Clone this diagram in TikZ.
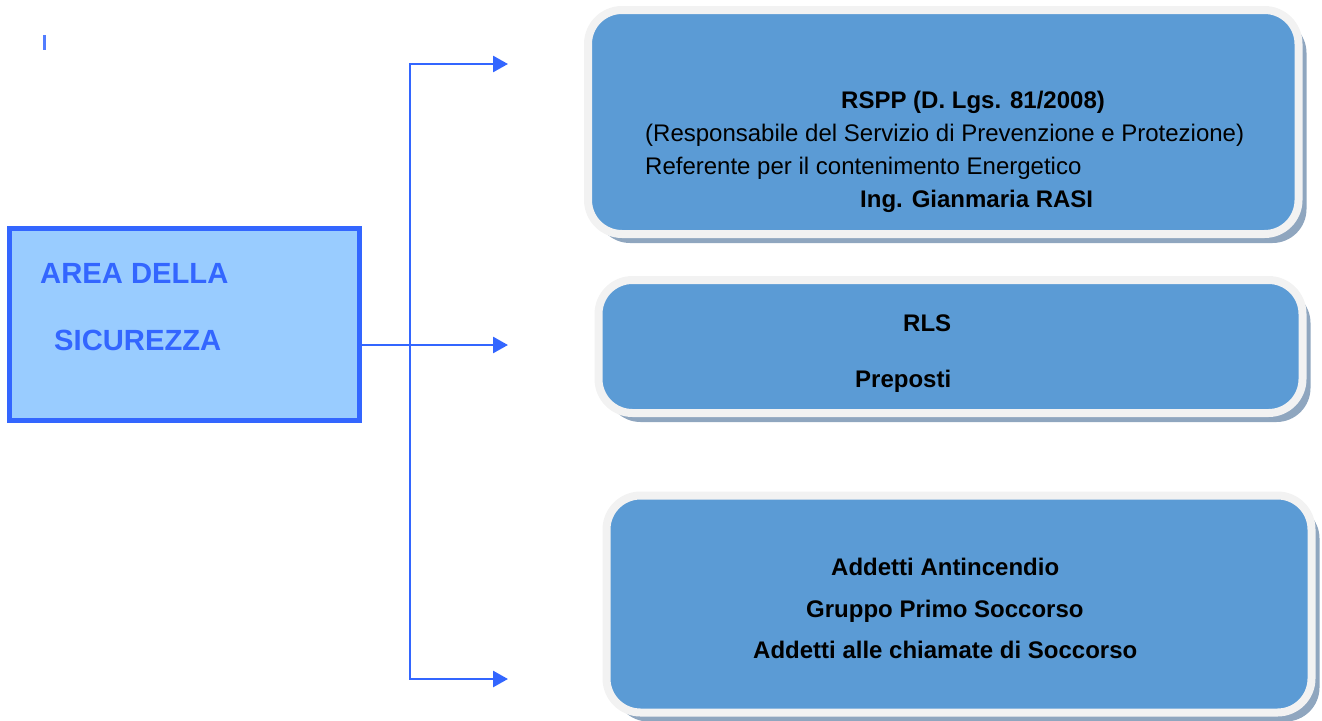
\documentclass[tikz,border=0pt]{standalone}
\usepackage{fontspec}
\setmainfont{Liberation Sans}
\usetikzlibrary{arrows.meta,shadows}
\definecolor{areablue}{RGB}{51,102,255}
\definecolor{areafill}{RGB}{153,204,255}
\definecolor{boxblue}{RGB}{91,155,213}
\definecolor{boxrim}{RGB}{242,242,242}
\definecolor{boxshadow}{RGB}{143,166,191}
\tikzstyle{area}=[draw=areablue,fill=areafill,line width=5pt,inner sep=0pt,outer sep=0pt]
\tikzstyle{ruolo}=[draw=boxrim,fill=boxblue,line width=8pt,rounded corners=34pt,inner sep=0pt,outer sep=0pt,drop shadow={shadow xshift=8pt,shadow yshift=-9pt,fill=boxshadow,opacity=1}]
\tikzstyle{riga}=[anchor=base west,inner sep=0pt,font=\fontsize{24}{28}\selectfont]
\tikzstyle{conn}=[draw=areablue,line width=2.7pt,->]
\newcommand{\testo}[4]{\node[riga,#4] (#1) at (#2) {#3};}

\begin{document}
\begin{tikzpicture}[x=1pt,y=1pt,>={Triangle[length=15pt,width=16pt]}]
    \useasboundingbox (0,0) rectangle (1322,-720);
    \fill[areablue!85!white] (43,-35) rectangle (45.5,-50);

    % area
    \node[area,minimum width=350pt,minimum height=192pt] (area) at (184.5,-324.5) {};
    \testo{area1}{40,-283}{\bfseries AREA DELLA}{text=areablue,font=\fontsize{29.2}{32}\selectfont}
    \testo{area2}{54,-350}{\bfseries SICUREZZA}{text=areablue,font=\fontsize{29.2}{32}\selectfont}

    % ruoli
    \node[ruolo,minimum width=710.5pt,minimum height=224pt] (rspp) at (943.25,-122) {};
    \node[ruolo,minimum width=704pt,minimum height=133pt] (rls) at (950.5,-346.5) {};
    \node[ruolo,minimum width=705pt,minimum height=217pt] (addetti) at (959,-604) {};

    \testo{rspp1}{841,-108}{\bfseries RSPP (D. Lgs. 81/2008)}{}
    \testo{rspp2}{645,-141}{(Responsabile del Servizio di Prevenzione e Protezione)}{}
    \testo{rspp3}{645,-174}{Referente per il contenimento Energetico}{}
    \testo{rspp4}{860,-207.5}{\bfseries Ing. Gianmaria RASI}{}

    \testo{rls1}{903,-331.5}{\bfseries RLS}{}
    \testo{rls2}{855,-387}{\bfseries Preposti}{}

    \testo{add1}{831,-575.5}{\bfseries Addetti Antincendio}{}
    \testo{add2}{806,-617.5}{\bfseries Gruppo Primo Soccorso}{}
    \testo{add3}{753,-658.5}{\bfseries Addetti alle chiamate di Soccorso}{}

    % connettori
    \coordinate (fork) at (410,-345);
    \coordinate (t1) at (508,-64);
    \coordinate (t2) at (508,-345);
    \coordinate (t3) at (508,-679);
    \draw[conn] (area.east |- fork) -- (t2);
    \draw[conn] (fork) |- (t1);
    \draw[conn] (fork) |- (t3);
\end{tikzpicture}
\end{document}
